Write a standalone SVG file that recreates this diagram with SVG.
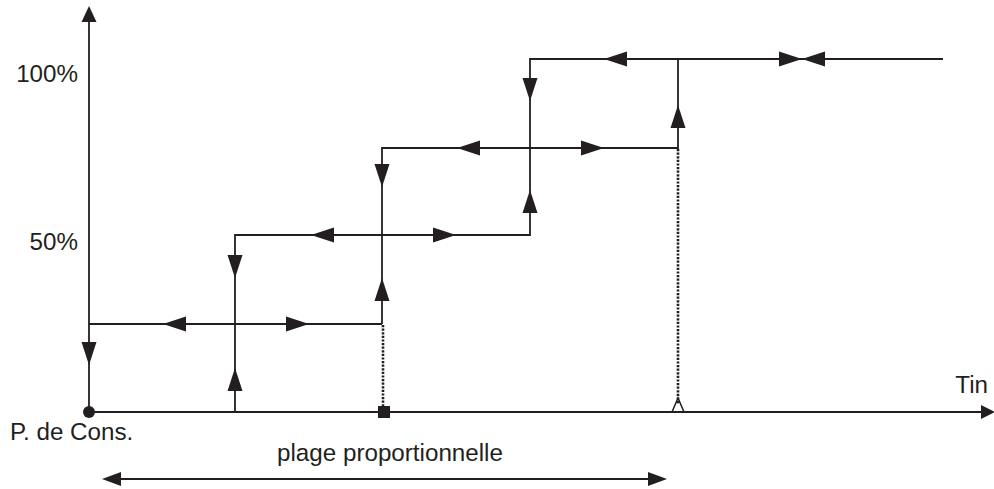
<svg xmlns="http://www.w3.org/2000/svg" xmlns:xlink="http://www.w3.org/1999/xlink" width="994" height="489" viewBox="0 0 994 489">
  <style>
    .ln { fill: none; stroke: #231f20; stroke-width: 1.8; }
    .thin { fill: none; stroke: #231f20; stroke-width: 1.5; }
    .dot { fill: none; stroke: #231f20; stroke-width: 2.6; stroke-dasharray: 2.2 1.4; }
    .ah { fill: #231f20; }
    .lbl { font-family: "Liberation Sans", Arial, sans-serif; font-size: 24.2px; fill: #231f20; }
  </style>
  <defs>
    <!-- arrowhead with its tip at the origin, pointing right -->
    <path id="ah" class="ah" d="M0,0 L-23,-7.5 L-23,7.5 Z"/>
    <path id="ahs" class="ah" d="M0,0 L-16,-7.5 L-16,7.5 Z"/>
  </defs>

  <g id="axes">
    <line class="ln" x1="89" y1="412" x2="89" y2="20"/>
    <use xlink:href="#ahs" transform="translate(89,6) rotate(-90)"/>
    <line class="ln" x1="89" y1="412" x2="983" y2="412"/>
    <path class="ah" d="M995,412 L981,405 L981,419 Z"/>
  </g>

  <g id="connectors">
    <!-- step outlines -->
    <path class="ln" d="M89,324 H382"/>
    <path class="ln" d="M235,412 V235 H530 V59 H943"/>
    <path class="ln" d="M382,324 V148 H678 V59"/>
    <!-- dotted drops to the axis -->
    <path class="dot" d="M383,325 V407"/>
    <path class="dot" d="M678,149 V404"/>
    <!-- open tick on the axis -->
    <path class="thin" d="M672,412 L678,398 L684,412"/>

    <!-- arrows on the horizontals -->
    <use xlink:href="#ah" transform="translate(163,324) rotate(180)"/>
    <use xlink:href="#ah" transform="translate(309,324)"/>
    <use xlink:href="#ah" transform="translate(311,235) rotate(180)"/>
    <use xlink:href="#ah" transform="translate(456,235)"/>
    <use xlink:href="#ah" transform="translate(457,148) rotate(180)"/>
    <use xlink:href="#ah" transform="translate(604,148)"/>
    <use xlink:href="#ah" transform="translate(604,59) rotate(180)"/>
    <use xlink:href="#ah" transform="translate(802,59)"/>
    <use xlink:href="#ah" transform="translate(802,59) rotate(180)"/>

    <!-- arrows on the verticals -->
    <use xlink:href="#ah" transform="translate(89,365) rotate(90)"/>
    <use xlink:href="#ah" transform="translate(235,368) rotate(-90)"/>
    <use xlink:href="#ah" transform="translate(235,278) rotate(90)"/>
    <use xlink:href="#ah" transform="translate(382,278) rotate(-90)"/>
    <use xlink:href="#ah" transform="translate(382,187) rotate(90)"/>
    <use xlink:href="#ah" transform="translate(530,190) rotate(-90)"/>
    <use xlink:href="#ah" transform="translate(530,101) rotate(90)"/>
    <use xlink:href="#ah" transform="translate(678,105) rotate(-90)"/>

    <!-- proportional band span -->
    <line class="ln" x1="118" y1="479" x2="650" y2="479"/>
    <path class="ah" d="M102,479 L121,472 L121,486 Z"/>
    <path class="ah" d="M667,479 L648,472 L648,486 Z"/>
  </g>

  <g id="origin">
    <circle cx="89" cy="412" r="6" fill="#231f20"/>
    <text class="lbl" x="10" y="440">P. de Cons.</text>
  </g>
  <g id="band-end">
    <rect x="378" y="406" width="12" height="12" fill="#231f20"/>
  </g>

  <g id="labels">
    <text class="lbl" x="78" y="82" text-anchor="end">100%</text>
    <text class="lbl" x="78" y="250" text-anchor="end">50%</text>
    <text class="lbl" x="988" y="393" text-anchor="end">Tin</text>
    <text class="lbl" x="390" y="461" text-anchor="middle">plage proportionnelle</text>
  </g>
</svg>
